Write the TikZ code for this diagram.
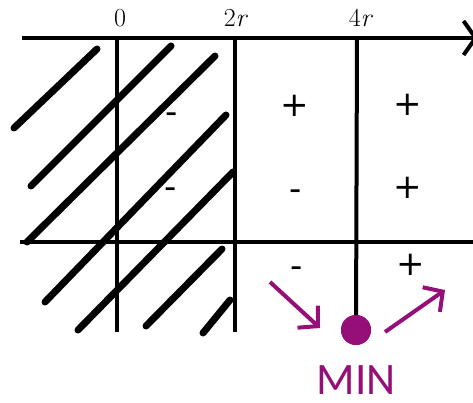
\documentclass[tikz,border=0pt]{standalone}
\usepackage{fontspec}
\newfontfamily\signfont{DejaVu Sans}
\newfontfamily\minfont{Carlito}
\usetikzlibrary{arrows.meta}
\definecolor{mag}{RGB}{150,15,120}
\begin{document}
\begin{tikzpicture}[x=1pt,y=-1pt,
  axisline/.style={line width=4pt},
  hatch/.style={line width=7pt,line cap=round},
  sign/.style={font=\signfont\fontsize{34}{34}\selectfont,inner sep=0pt,anchor=mid,yshift=-8.5pt},
  lbl/.style={font=\fontsize{26}{26}\selectfont,inner sep=0pt,anchor=base},
  marr/.style={mag,line width=4pt,-{Straight Barb[length=14pt,width=30pt]}}]
\useasboundingbox (0,0) rectangle (473,403);
% coordinates
\coordinate (tl) at (22,38);
\coordinate (tr) at (478,38);
\coordinate (bl) at (20,242);
\coordinate (br) at (473,242);
\coordinate (z0) at (117,38);
\coordinate (z1) at (117,332);
\coordinate (t0) at (235,38);
\coordinate (t1) at (235,332);
\coordinate (f0) at (357,38);
\node[circle,fill=mag,inner sep=0pt,minimum size=30pt] (dot) at (356,330) {};
% axes
\draw[axisline,-{Straight Barb[length=12pt,width=34pt]}] (tl) -- (tr);
\draw[axisline] (bl) -- (br);
\draw[axisline] (z0) -- (z1);
\draw[axisline] (t0) -- (t1);
\draw[axisline] (f0) -- (dot.center);
\node[circle,fill=mag,inner sep=0pt,minimum size=30pt] at (dot) {};
% hatching
\draw[hatch] (14,128) -- (97,49);
\draw[hatch] (31,186) -- (171,46);
\draw[hatch] (27,242) -- (215,56);
\draw[hatch] (45,302) -- (226,115);
\draw[hatch] (78,330) -- (233,172);
\draw[hatch] (146,326) -- (222,249);
\draw[hatch] (203,333) -- (230,300);
% labels
\node[lbl] (l0) at (120,27) {0};
\node[lbl] (l2) at (236,27) {2\textit{r}};
\node[lbl] (l4) at (361,27) {4\textit{r}};
% signs
\node[sign] (s11) at (172,113) {-};
\node[sign] (s12) at (295,106) {+};
\node[sign] (s13) at (408,105) {+};
\node[sign] (s21) at (171,188) {-};
\node[sign] (s22) at (296,190) {-};
\node[sign] (s23) at (408,188) {+};
\node[sign] (s32) at (297,267) {-};
\node[sign] (s33) at (411,265) {+};
% arrows
\coordinate (a1s) at (270,282);
\coordinate (a1e) at (320,328);
\coordinate (a2s) at (385,332);
\coordinate (a2e) at (445,290);
\draw[marr] (a1s) -- (a1e);
\draw[marr] (a2s) -- (a2e);
\node[font=\minfont\fontsize{45}{45}\selectfont,text=mag,inner sep=0pt,anchor=base] (min) at (356,394) {MIN};
\end{tikzpicture}
\end{document}
